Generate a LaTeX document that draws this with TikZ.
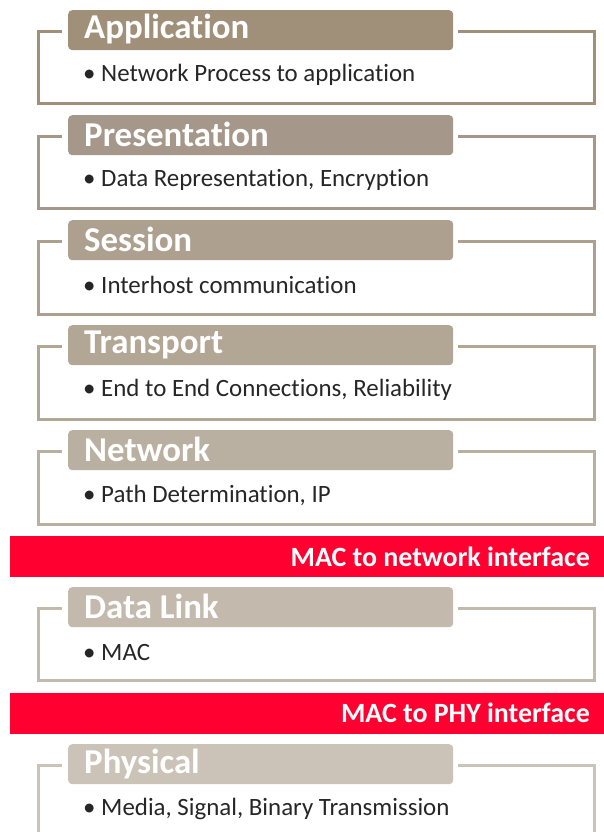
\documentclass[tikz,border=0pt]{standalone}
\usepackage{fontspec}
\setmainfont{Carlito}[Ligatures={NoCommon}]
\begin{document}
\begin{tikzpicture}[x=1bp,y=-1bp,
  tabbox/.style={fill=#1, rounded corners=4bp, minimum width=385bp, minimum height=40bp,
     anchor=north west, inner sep=0pt},
  tabtxt/.style={anchor=west, inner sep=0pt, text=white, font=\bfseries\fontsize{35}{36}\selectfont},
  framel/.style={draw=#1, line width=3bp},
  bullettxt/.style={anchor=west, inner sep=0pt, text=black!85, font=\fontsize{25}{27}\selectfont},
  band/.style={fill=bandred, draw=none, minimum width=594bp, minimum height=41bp, anchor=north west, inner sep=0pt},
  bandtxt/.style={anchor=east, inner sep=0pt, text=white, font=\bfseries\fontsize{28}{30}\selectfont}
]
\definecolor{bandred}{HTML}{FF0030}
\definecolor{cA}{HTML}{A09079}
\definecolor{cB}{HTML}{A5978A}
\definecolor{cC}{HTML}{ADA08F}
\definecolor{cD}{HTML}{B2A695}
\definecolor{cE}{HTML}{BAB0A2}
\definecolor{cF}{HTML}{C3BAAD}
\definecolor{cG}{HTML}{CCC3B8}
\useasboundingbox (0,0) rectangle (604,832);

\newcommand{\osilayer}[6]{% name, top y, color, title, text, bottom y
  \node[tabbox=#3] (#1) at (68,#2) {};
  \node[tabtxt] (#1h) at (84,#2+19.5) {#4};
  \coordinate (#1ls) at (62,#2+21);
  \coordinate (#1rs) at (458,#2+21);
  \coordinate (#1tl) at (38,#2+21);
  \coordinate (#1tr) at (594,#2+21);
  \coordinate (#1bl) at (38,#6);
  \coordinate (#1br) at (594,#6);
  \draw[framel=#3] (#1ls) -- (#1tl) -- (#1bl) -- (#1br) -- (#1tr) -- (#1rs);
  \node[bullettxt] (#1t) at (83,#2+65) {• #5};
}

\osilayer{app}{10}{cA}{Application}{Network Process to application}{103}
\osilayer{pres}{115}{cB}{Presentation}{Data Representation, Encryption}{208}
\osilayer{sess}{220}{cC}{Session}{Interhost communication}{314}
\osilayer{trans}{325}{cD}{Transport}{End to End Connections, Reliability}{419}
\osilayer{net}{430}{cE}{Network}{Path Determination, IP}{524}

\node[band] (band1) at (10,536) {};
\node[bandtxt] (band1t) at (590,556.5) {MAC to network interface};

\osilayer{dl}{587}{cF}{Data Link}{MAC}{680}

\node[band] (band2) at (10,693) {};
\node[bandtxt] (band2t) at (590,713) {MAC to PHY interface};

\osilayer{phy}{744}{cG}{Physical}{Media, Signal, Binary Transmission}{850}
\end{tikzpicture}
\end{document}
